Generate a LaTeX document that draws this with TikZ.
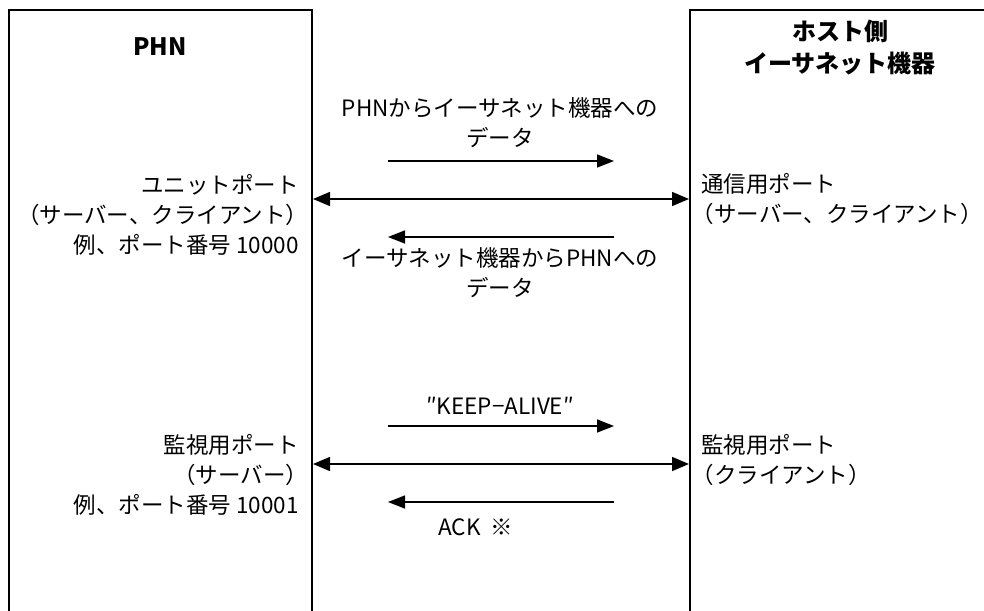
\documentclass[tikz,border=0pt]{standalone}
\usepackage{fontspec}
\newfontfamily\jp{Noto Sans CJK JP}
\newcommand\jlp{\kern-0.42em（}
\newcommand\jrp{）\kern-0.42em}
\usetikzlibrary{arrows.meta}
\begin{document}
\begin{tikzpicture}[x=1pt,y=-1pt,
  lbl/.style={font=\jp\fontsize{22.5}{30}\selectfont, inner sep=0pt},
  head/.style={font=\jp\bfseries\fontsize{24}{32}\selectfont, inner sep=0pt, align=center},
  boxline/.style={line width=2pt},
  arr/.style={line width=1.5pt, -{Triangle[length=17pt,width=13pt]}},
  dbl/.style={line width=1.5pt, {Triangle[length=17pt,width=14pt]}-{Triangle[length=17pt,width=14pt]}}]
\useasboundingbox (0,0) rectangle (984,610);
\begin{scope}
\clip (0,0) rectangle (984,610);
\draw[boxline] (9,10) rectangle (312,630);
\draw[boxline] (690,10) rectangle (1040,630);
\end{scope}
% headings
\node[head] (phn) at (160,47) {PHN};
\node[head] (host) at (840,47) {ホスト側\\イーサネット機器};
% left labels
\node[lbl, align=right, anchor=east] (lp1) at (299,215) {ユニットポート\\（サーバー、クライアント\jrp\\例、ポート番号 10000};
\node[lbl, align=right, anchor=east] (lp2) at (299,475) {監視用ポート\\（サーバー\jrp\\例、ポート番号 10001};
% right labels
\node[lbl, align=left, anchor=west] (rp1) at (701,199) {通信用ポート\\\jlp サーバー、クライアント）};
\node[lbl, align=left, anchor=west] (rp2) at (701,460) {監視用ポート\\\jlp クライアント）};
% middle labels
\node[lbl, align=center] (t1) at (500,123) {PHNからイーサネット機器への\\データ};
\node[lbl, align=center] (t2) at (500,273) {イーサネット機器からPHNへの\\データ};
\node[lbl] (t3) at (500,406) {″KEEP−ALIVE″};
\node[lbl] (t4) at (476,527) {ACK\hspace{0.45em}※};
% connectors
\coordinate (a1s) at (388,161); \coordinate (a1e) at (614,161);
\coordinate (d1s) at (313,199); \coordinate (d1e) at (689,199);
\coordinate (a2s) at (614,237); \coordinate (a2e) at (388,237);
\coordinate (a3s) at (388,426); \coordinate (a3e) at (614,426);
\coordinate (d2s) at (313,464); \coordinate (d2e) at (689,464);
\coordinate (a4s) at (614,502); \coordinate (a4e) at (388,502);
\draw[arr] (a1s) -- (a1e);
\draw[dbl] (d1s) -- (d1e);
\draw[arr] (a2s) -- (a2e);
\draw[arr] (a3s) -- (a3e);
\draw[dbl] (d2s) -- (d2e);
\draw[arr] (a4s) -- (a4e);
\end{tikzpicture}
\end{document}
